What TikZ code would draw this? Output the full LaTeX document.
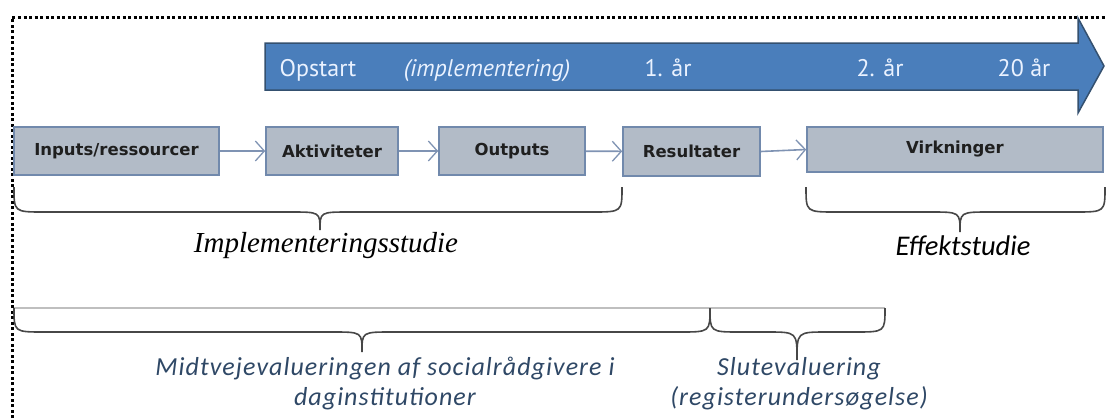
\documentclass[tikz,border=0pt]{standalone}
\usepackage{fontspec}
\setmainfont{Liberation Serif}
\newfontfamily\boxfont{DejaVu Sans}
\newfontfamily\arrfont{PT Sans}
\newfontfamily\calfont{Carlito}
\newfontfamily\calspaced[LetterSpace=4]{Carlito}
\usetikzlibrary{arrows.meta}
\definecolor{arrowblue}{HTML}{4A7EBB}
\definecolor{arrowedge}{HTML}{34506F}
\definecolor{boxfill}{HTML}{B2BBC7}
\definecolor{boxedge}{HTML}{7189AC}
\definecolor{conn}{HTML}{7F93B3}
\definecolor{bluetext}{HTML}{2F4866}
\definecolor{arrtext}{HTML}{EAF2FF}
\tikzset{
  stagebox/.style={draw=boxedge, line width=1.6pt, fill=boxfill, inner sep=0pt,
    font=\boxfont\bfseries\fontsize{16.5}{19}\selectfont, text=black!88},
  flow/.style={draw=conn, line width=1.6pt, -{Straight Barb[length=9pt,width=20pt,line width=1.3pt]}},
  brace/.style={draw=black!72, line width=1.6pt},
  arrlabel/.style={text=arrtext, font=\arrfont\fontsize{24}{27}\selectfont, inner sep=0pt, anchor=base},
  blabel/.style={text=bluetext, font=\calspaced\itshape\fontsize{26}{30}\selectfont, align=center, inner sep=0pt}
}
\begin{document}
\begin{tikzpicture}[x=1pt,y=-1pt]
\useasboundingbox (0,0) rectangle (1106,418);
% dotted frame
\draw[line width=3pt, dash pattern=on 3pt off 2.5pt] (12,418) -- (12,17) -- (1106,17);
% timeline arrow
\draw[fill=arrowblue, draw=arrowedge, line width=1.5pt]
  (265,43) -- (1078,43) -- (1078,18) -- (1104,66) -- (1078,113) -- (1078,90) -- (265,90) -- cycle;
\node[arrlabel] (t0) at (318,76) {Opstart};
\node[arrlabel] (t1) at (487,76) {\itshape (implementering)};
\node[arrlabel] (t2) at (668,76) {1. år};
\node[arrlabel] (t3) at (880,76) {2. år};
\node[arrlabel] (t4) at (1024,76) {20 år};
% boxes
\node[stagebox, minimum width=205pt, minimum height=48pt] (inp) at (116.5,151) {Inputs/ressourcer};
\node[stagebox, minimum width=132pt, minimum height=48pt] (akt) at (332,151) {Aktiviteter};
\node[stagebox, minimum width=146pt, minimum height=48pt] (out) at (512,151) {Outputs};
\node[stagebox, minimum width=137pt, minimum height=49pt] (res) at (691.5,151.5) {Resultater};
\node[stagebox, minimum width=296pt, minimum height=45pt] (vir) at (955,149.5) {Virkninger};
\draw[flow] (inp) -- (akt);
\draw[flow] (akt) -- (out);
\draw[flow] (out) -- (res);
\draw[flow] (res.east) -- (vir.west);
% upper braces
\draw[brace] (14,187) .. controls (14,212) .. (44,212) -- (290,212)
  .. controls (320,212) .. (320,230) .. controls (320,212) .. (350,212) -- (592,212)
  .. controls (622,212) .. (622,187);
\draw[brace] (806,187) .. controls (806,212) .. (836,212) -- (930,212)
  .. controls (960,212) .. (960,232) .. controls (960,212) .. (990,212) -- (1075,212)
  .. controls (1105,212) .. (1105,187);
\node[font=\itshape\fontsize{29}{32}\selectfont, inner sep=0pt] (impl) at (326,246) {Implementeringsstudie};
\node[font=\calfont\itshape\fontsize{28.5}{32}\selectfont, inner sep=0pt] (eff) at (963,246) {Effektstudie};
% lower braces
\draw[draw=black!25, line width=1.5pt] (14,308) -- (885,308);
\draw[brace] (14,308) .. controls (14,332) .. (44,332) -- (332,332)
  .. controls (362,332) .. (362,352) .. controls (362,332) .. (392,332) -- (680,332)
  .. controls (710,332) .. (710,308);
\draw[brace] (710,308) .. controls (710,332) .. (740,332) -- (767,332)
  .. controls (797,332) .. (797,360) .. controls (797,332) .. (827,332) -- (855,332)
  .. controls (885,332) .. (885,308);
\node[blabel] (midt) at (385,384) {Midtvejevalueringen af socialrådgivere i\\daginstitutioner};
\node[blabel] (slut) at (799,384) {Slutevaluering\\(registerundersøgelse)};
\end{tikzpicture}
\end{document}
